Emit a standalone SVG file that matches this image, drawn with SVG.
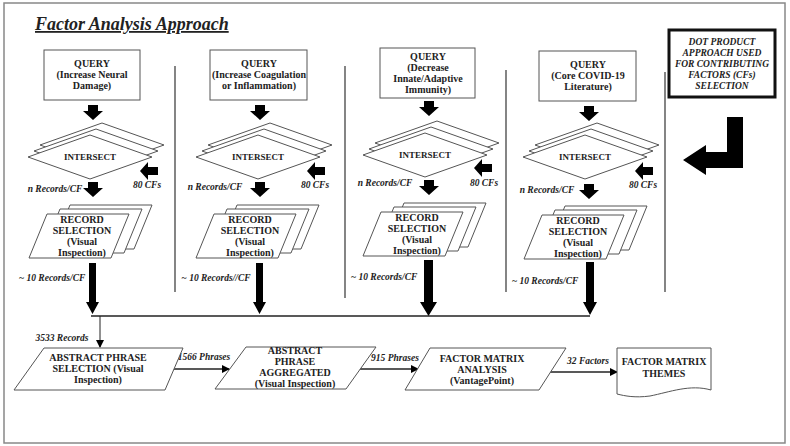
<svg xmlns="http://www.w3.org/2000/svg" width="790" height="446" viewBox="0 0 790 446">
<defs>
<style>
text{font-family:'Liberation Serif','Times New Roman','DejaVu Serif',serif;font-weight:bold;fill:#222;text-anchor:middle}
.t{font-size:10px}
.i{font-size:9.5px;font-style:italic}
.sh{fill:#fff;stroke:#555;stroke-width:1}
.div{stroke:#333;stroke-width:1.2}
</style>
<g id="dia"><polygon class="sh" points="-62,0 0,-22 62,0 0,22"/></g>
<g id="rec"><polygon class="sh" points="-54,22 -36,-22 46,-22 28,22"/></g>
<g id="dn"><polygon fill="#000" points="-5,0 5,0 5,6 10,6 0,15 -10,6 -5,6"/></g>
<g id="lf"><polygon fill="#000" points="18,-4 8,-4 8,-9 0,0 8,9 8,4 18,4"/></g>
<marker id="ah" markerWidth="8" markerHeight="8" refX="7" refY="4" orient="auto" markerUnits="userSpaceOnUse"><path d="M0,0 L8,4 L0,8 Z" fill="#000"/></marker>
</defs>
<rect x="0" y="0" width="790" height="446" fill="#fff"/>
<rect x="4" y="3" width="781" height="440" fill="none" stroke="#888" stroke-width="1.5"/>
<text x="35" y="30" style="font-size:18px;font-style:italic;text-anchor:start;text-decoration:underline">Factor Analysis Approach</text>

<g id="dividers">
<line class="div" x1="175" y1="66" x2="175" y2="292"/>
<line class="div" x1="345" y1="66" x2="345" y2="298"/>
<line class="div" x1="506" y1="70" x2="506" y2="292"/>
<line class="div" x1="665" y1="72" x2="665" y2="292"/>
</g>

<g id="col1">
<rect class="sh" x="44" y="50" width="96" height="50"/>
<text class="t" x="92" y="67">QUERY</text><text class="t" x="92" y="78">(Increase Neural</text><text class="t" x="92" y="89">Damage)</text>
<use href="#dn" x="93" y="105"/>
<use href="#dia" x="102" y="145"/><use href="#dia" x="96" y="151"/><use href="#dia" x="90" y="157"/>
<text class="t" x="90" y="160" style="font-size:9px">INTERSECT</text>
<use href="#lf" x="140" y="171"/><text class="i" x="147" y="188">80 CFs</text>
<text class="i" x="55" y="192">n Records/CF</text>
<use href="#dn" x="93" y="182"/>
<use href="#rec" x="106" y="227"/><use href="#rec" x="96" y="231"/><use href="#rec" x="83" y="236"/>
<text class="t" x="82" y="223">RECORD</text><text class="t" x="82" y="234">SELECTION</text><text class="t" x="82" y="245">(Visual</text><text class="t" x="82" y="256">Inspection)</text>
<text class="i" x="52" y="281">~ 10 Records/CF</text>
</g>

<g id="col2">
<rect class="sh" x="210" y="50" width="97" height="50"/>
<text class="t" x="259" y="67">QUERY</text><text class="t" x="259" y="78">(Increase Coagulation</text><text class="t" x="259" y="89">or Inflammation)</text>
<use href="#dn" x="260" y="105"/>
<use href="#dia" x="270" y="145"/><use href="#dia" x="264" y="151"/><use href="#dia" x="258" y="157"/>
<text class="t" x="258" y="160" style="font-size:9px">INTERSECT</text>
<use href="#lf" x="307" y="171"/><text class="i" x="315" y="188">80 CFs</text>
<text class="i" x="215" y="190">n Records/CF</text>
<use href="#dn" x="260" y="182"/>
<use href="#rec" x="273" y="227"/><use href="#rec" x="263" y="231"/><use href="#rec" x="250" y="236"/>
<text class="t" x="250" y="223">RECORD</text><text class="t" x="250" y="234">SELECTION</text><text class="t" x="250" y="245">(Visual</text><text class="t" x="250" y="256">Inspection)</text>
<text class="i" x="216" y="281">~  10 Records//CF</text>
</g>

<g id="col3">
<rect class="sh" x="380" y="48" width="95" height="50"/>
<text class="t" x="428" y="60">QUERY</text><text class="t" x="428" y="71">(Decrease</text><text class="t" x="428" y="82">Innate/Adaptive</text><text class="t" x="428" y="93">Immunity)</text>
<use href="#dn" x="429" y="101"/>
<use href="#dia" x="437" y="143"/><use href="#dia" x="431" y="149"/><use href="#dia" x="425" y="155"/>
<text class="t" x="425" y="158" style="font-size:9px">INTERSECT</text>
<use href="#lf" x="474" y="168"/><text class="i" x="484" y="186">80 CFs</text>
<text class="i" x="385" y="186">n Records/CF</text>
<use href="#dn" x="429" y="180"/>
<use href="#rec" x="440" y="225"/><use href="#rec" x="430" y="229"/><use href="#rec" x="417" y="234"/>
<text class="t" x="417" y="221">RECORD</text><text class="t" x="417" y="232">SELECTION</text><text class="t" x="417" y="243">(Visual</text><text class="t" x="417" y="254">Inspection)</text>
<text class="i" x="384" y="280">~ 10 Records/CF</text>
</g>

<g id="col4">
<rect class="sh" x="539" y="51" width="97" height="50"/>
<text class="t" x="588" y="68">QUERY</text><text class="t" x="588" y="79">(Core COVID-19</text><text class="t" x="588" y="90">Literature)</text>
<use href="#dn" x="589" y="106"/>
<use href="#dia" x="597" y="145"/><use href="#dia" x="591" y="151"/><use href="#dia" x="585" y="157"/>
<text class="t" x="585" y="160" style="font-size:9px">INTERSECT</text>
<use href="#lf" x="635" y="171"/><text class="i" x="643" y="188">80 CFs</text>
<text class="i" x="547" y="193">n Records/CF</text>
<use href="#dn" x="589" y="184"/>
<use href="#rec" x="601" y="228"/><use href="#rec" x="591" y="232"/><use href="#rec" x="578" y="237"/>
<text class="t" x="578" y="224">RECORD</text><text class="t" x="578" y="235">SELECTION</text><text class="t" x="578" y="246">(Visual</text><text class="t" x="578" y="257">Inspection)</text>
<text class="i" x="545" y="284">~ 10 Records/CF</text>
</g>

<g id="dot">
<rect x="669" y="30" width="106" height="67" fill="#fff" stroke="#111" stroke-width="3"/>
<text class="i" x="722" y="45">DOT PRODUCT</text><text class="i" x="722" y="56">APPROACH USED</text><text class="i" x="722" y="67">FOR CONTRIBUTING</text><text class="i" x="722" y="78">FACTORS (CFs)</text><text class="i" x="722" y="89">SELECTION</text>
<polygon fill="#000" points="727,117 743,117 743,168 706,168 706,175 683,160 706,145 706,152 727,152"/>
</g>

<g id="connectors">
<polygon fill="#000" points="89,263 96,263 96,302 99,302 92.5,314 86,302 89,302"/>
<polygon fill="#000" points="256,263 263,263 263,302 266,302 259.5,314 253,302 256,302"/>
<polygon fill="#000" points="424,260 433,260 433,302 437,302 428.5,316 420,302 424,302"/>
<polygon fill="#000" points="586,262 594,262 594,302 597,302 590,315 583,302 586,302"/>
<line x1="91" y1="316" x2="590" y2="316" stroke="#222" stroke-width="1.3"/>
<line x1="100" y1="316" x2="100" y2="347" stroke="#222" stroke-width="1" marker-end="url(#ah)"/>
<line x1="167" y1="369" x2="229" y2="369" stroke="#222" stroke-width="1.3" marker-end="url(#ah)"/>
<line x1="358" y1="369" x2="418" y2="369" stroke="#222" stroke-width="1.3" marker-end="url(#ah)"/>
<line x1="549" y1="372" x2="617" y2="372" stroke="#222" stroke-width="1.3" marker-end="url(#ah)"/>
</g>
<text class="i" x="62" y="341">3533 Records</text>
<text class="i" x="204" y="360">1566 Phrases</text>
<text class="i" x="395" y="361">915 Phrases</text>
<text class="i" x="588" y="364">32 Factors</text>

<g id="b1"><polygon class="sh" points="44,348 183,348 165,390 14,390"/>
<text class="t" x="98" y="361">ABSTRACT PHRASE</text><text class="t" x="98" y="372">SELECTION (Visual</text><text class="t" x="98" y="383">Inspection)</text></g>
<g id="b2"><polygon class="sh" points="246,347 376,347 346,389 215,389"/>
<text class="t" x="295" y="354">ABSTRACT</text><text class="t" x="295" y="365">PHRASE</text><text class="t" x="295" y="376">AGGREGATED</text><text class="t" x="295" y="387">(Visual Inspection)</text></g>
<g id="b3"><polygon class="sh" points="430,348 566,348 539,390 405,390"/>
<text class="t" x="482" y="362">FACTOR MATRIX</text><text class="t" x="482" y="373">ANALYSIS</text><text class="t" x="482" y="384">(VantagePoint)</text></g>
<g id="b4"><path class="sh" d="M617,348 H711 V390 C690,384 670,392 650,396 C635,398 625,396 617,394 Z"/>
<text class="t" x="664" y="365">FACTOR MATRIX</text><text class="t" x="664" y="377">THEMES</text></g>
</svg>
